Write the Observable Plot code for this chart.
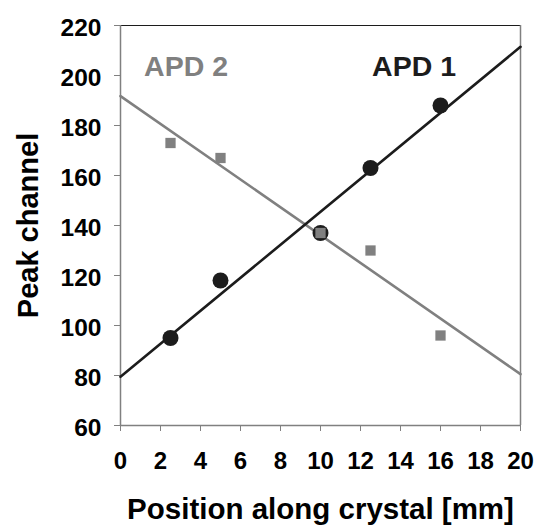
<!DOCTYPE html>
<html><head><meta charset="utf-8">
<script src="https://cdn.jsdelivr.net/npm/d3@7"></script>
<script src="https://cdn.jsdelivr.net/npm/@observablehq/plot@0.6"></script>
<style>
body{margin:0;background:#fff}
#chart svg{font-family:"Liberation Sans",Arial,sans-serif;font-weight:bold}
</style>
</head><body><div id="chart"></div>
<script>
// Data
const positions = [2.5, 5, 10, 12.5, 16];          // mm
const apd1Peak = [95, 118, 137, 163, 188];
const apd2Peak = [173, 167, 137, 130, 96];
const xDomain = [0, 20];
const yDomain = [60, 220];
const xTicks = [0, 2, 4, 6, 8, 10, 12, 14, 16, 18, 20];
const yTicks = [60, 80, 100, 120, 140, 160, 180, 200, 220];
const seriesLabels = [
  {name: "APD 1", x: 12.58, y: 203.6},
  {name: "APD 2", x: 1.18, y: 203.6}
];
const xTitle = "Position along crystal [mm]";
const yTitle = "Peak channel";

const BLACK = "#1c1c1c", GRAY = "#808080";

// least-squares fit, drawn over the full x domain
function fitLine(xs, ys) {
  const mx = d3.mean(xs), my = d3.mean(ys);
  const sxy = d3.sum(xs, (x, i) => (x - mx) * (ys[i] - my));
  const sxx = d3.sum(xs, x => (x - mx) ** 2);
  const b = sxy / sxx, a = my - b * mx;
  return xDomain.map(x => ({x, y: a + b * x}));
}
const pts1 = positions.map((x, i) => ({x, y: apd1Peak[i]}));
const pts2 = positions.map((x, i) => ({x, y: apd2Peak[i]}));
const fit1 = fitLine(positions, apd1Peak);
const fit2 = fitLine(positions, apd2Peak);

const chart = Plot.plot({
  width: 536, height: 525,
  marginLeft: 120, marginRight: 16, marginTop: 25, marginBottom: 100,
  x: {domain: xDomain},
  y: {domain: yDomain},
  style: {fontFamily: '"Liberation Sans", Arial, sans-serif', fontWeight: "bold", color: "#000", background: "#fff"},
  marks: [
    Plot.axisX({ticks: xTicks, tickSize: 6, tickPadding: 20, fontSize: 24, fontWeight: "bold", stroke: GRAY, fill: "#000", label: null, tickFormat: d => String(d)}),
    // y tick marks
    Plot.axisY({ticks: yTicks, tickSize: 6, stroke: GRAY, label: null, tickFormat: () => ""}),
    // y tick labels (slightly lowered, as in the reference)
    Plot.axisY({ticks: yTicks, tickSize: 0, tickPadding: 19, dy: 3, fontSize: 24.5, fontWeight: "bold", fill: "#000", label: null, tickFormat: d => String(d)}),
    Plot.ruleY([yDomain[1]], {stroke: BLACK, strokeWidth: 1.2}),
    Plot.ruleX([xDomain[1]], {stroke: GRAY, strokeWidth: 1.5}),
    Plot.ruleX([xDomain[0]], {stroke: GRAY, strokeWidth: 1.5}),
    Plot.ruleY([yDomain[0]], {stroke: GRAY, strokeWidth: 1.5}),
    Plot.line(fit2, {x: "x", y: "y", stroke: GRAY, strokeWidth: 2.6}),
    Plot.line(fit1, {x: "x", y: "y", stroke: BLACK, strokeWidth: 2.6}),
    Plot.dot(pts1, {x: "x", y: "y", r: 8, fill: BLACK, stroke: "none"}),
    Plot.dot(pts2, {x: "x", y: "y", symbol: "square", r: 5.8, fill: GRAY, stroke: "none"}),
    Plot.text(seriesLabels, {x: "x", y: "y", text: "name", textAnchor: "start", lineAnchor: "middle", fontSize: 28.5, fontWeight: "bold",
      fill: d => d.name === "APD 1" ? BLACK : GRAY}),
    Plot.text([xTitle], {text: d => d, frameAnchor: "bottom", textAnchor: "middle", lineAnchor: "middle", dy: 84, fontSize: 29.5, fontWeight: "bold", fill: "#000"}),
    Plot.text([yTitle], {text: d => d, frameAnchor: "left", textAnchor: "middle", lineAnchor: "middle", rotate: -90, dx: -92, fontSize: 29, fontWeight: "bold", fill: "#000"})
  ]
});
document.getElementById("chart").appendChild(chart);
</script>
</body></html>
